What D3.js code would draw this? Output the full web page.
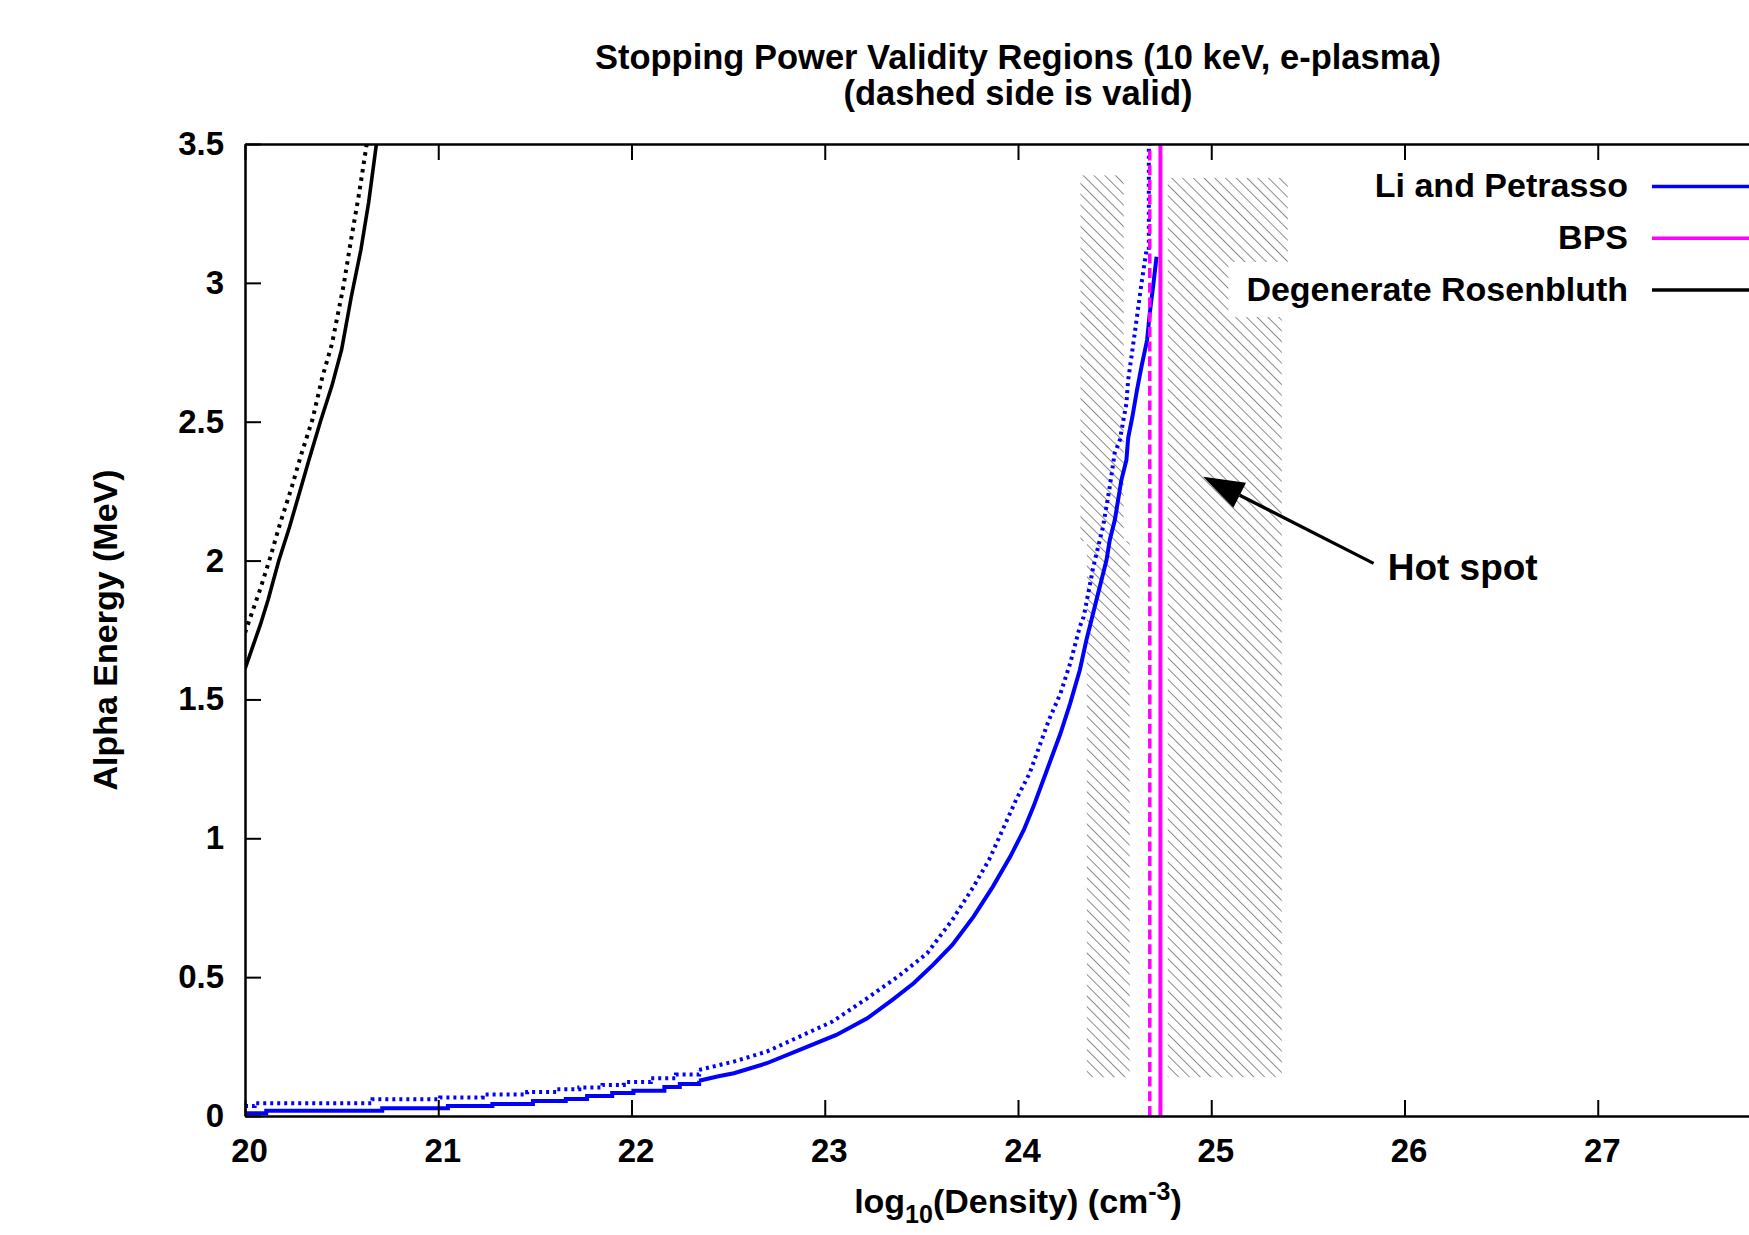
<!DOCTYPE html>
<html>
<head>
<meta charset="utf-8">
<script src="https://cdn.jsdelivr.net/npm/d3@7"></script>
<style>
  body { margin: 0; background: #fff; }
  svg { display: block; font-family: "Liberation Sans", Arial, Helvetica, sans-serif; font-weight: bold; }
  .axis path, .axis line { stroke: #000; stroke-width: 2.5; }
  .axis .tick line { stroke-width: 2; }
  .axis text { font-family: "Liberation Sans", Arial, Helvetica, sans-serif; font-size: 33px; font-weight: bold; fill: #000; }
</style>
</head>
<body>
<div id="chart"></div>
<script>
// axis ranges and ticks (28 lies past the right edge of the picture)
const xDomain = [20, 28];
const yDomain = [0, 3.5];
const xTickValues = [20, 21, 22, 23, 24, 25, 26, 27];
const yTickValues = [0, 0.5, 1, 1.5, 2, 2.5, 3, 3.5];

// Li and Petrasso boundary (solid / dotted), [log10 density, MeV]
// the first points are the flat staircase, the rest is the rising branch
const liPetrassoSolid = [
  [20.00, 0.010], [20.11, 0.019], [20.71, 0.028], [21.05, 0.036], [21.28, 0.043],
  [21.49, 0.054], [21.66, 0.061], [21.77, 0.072], [21.90, 0.083], [22.01, 0.091],
  [22.17, 0.104], [22.25, 0.115], [22.35, 0.127], [22.45, 0.143], [22.53, 0.154],
  [22.70, 0.190], [22.87, 0.238], [23.06, 0.292], [23.22, 0.352], [23.35, 0.418],
  [23.46, 0.478], [23.56, 0.544], [23.66, 0.616], [23.77, 0.718], [23.87, 0.826],
  [23.96, 0.934], [24.03, 1.030], [24.08, 1.114], [24.15, 1.246], [24.22, 1.378],
  [24.27, 1.486], [24.32, 1.606], [24.354, 1.714], [24.380, 1.786], [24.406, 1.858],
  [24.432, 1.930], [24.458, 2.002], [24.475, 2.074], [24.501, 2.146], [24.518, 2.218],
  [24.535, 2.290], [24.561, 2.362], [24.570, 2.441], [24.592, 2.518], [24.616, 2.615],
  [24.639, 2.698], [24.668, 2.794], [24.682, 2.892], [24.699, 2.986], [24.717, 3.094]
];
const liPetrassoDotted = [
  [20.00, 0.036], [20.05, 0.046], [20.66, 0.060], [21.01, 0.067], [21.23, 0.077],
  [21.46, 0.086], [21.61, 0.096], [21.73, 0.103], [21.85, 0.112], [21.96, 0.122],
  [22.10, 0.136], [22.23, 0.149], [22.35, 0.166], [22.53, 0.196], [22.70, 0.232],
  [22.87, 0.286], [23.04, 0.340], [23.22, 0.424], [23.39, 0.508], [23.53, 0.586],
  [23.66, 0.706], [23.77, 0.826], [23.85, 0.922], [23.92, 1.030], [23.99, 1.138],
  [24.06, 1.234], [24.11, 1.330], [24.16, 1.426], [24.22, 1.522], [24.27, 1.630],
  [24.32, 1.762], [24.34, 1.798], [24.39, 1.978], [24.44, 2.122], [24.475, 2.266],
  [24.50, 2.386], [24.527, 2.434], [24.561, 2.566], [24.570, 2.650], [24.604, 2.818],
  [24.639, 2.998], [24.665, 3.118], [24.677, 3.118], [24.677, 3.500]
];
// x where the flat staircase gives way to the rising branch
const staircaseEnd = 22.35;

// Degenerate Rosenbluth boundary (solid / dotted)
const degRosenbluthSolid = [
  [20.00, 1.61], [20.04, 1.69], [20.08, 1.77], [20.12, 1.86], [20.175, 2.00],
  [20.23, 2.12], [20.28, 2.24], [20.33, 2.36], [20.39, 2.50], [20.45, 2.63],
  [20.50, 2.76], [20.55, 2.95], [20.60, 3.12], [20.64, 3.29], [20.68, 3.50]
];
const degRosenbluthDotted = [
  [20.00, 1.74], [20.04, 1.82], [20.08, 1.90], [20.13, 2.01], [20.18, 2.13],
  [20.24, 2.26], [20.29, 2.38], [20.35, 2.51], [20.40, 2.66], [20.45, 2.78],
  [20.51, 2.99], [20.55, 3.16], [20.59, 3.32], [20.63, 3.50]
];

// BPS boundary is vertical
const bpsSolidX = 24.737;
const bpsDashedX = 24.682;

// hatched hot-spot bands: [x0, x1, y0, y1]
const hatchBands = [
  [24.323, 24.547, 2.07, 3.387],
  [24.356, 24.578, 0.14, 2.07],
  [24.775, 25.396, 2.877, 3.378],
  [24.775, 25.365, 0.14, 2.877]
];

const legendLabels = ['Li and Petrasso', 'BPS', 'Degenerate Rosenbluth'];
const legendColors = ['#0000ff', '#ff00ff', '#000000'];

const hotSpotLabel = 'Hot spot';
const hotSpotLabelPos = [25.913, 1.93];
const hotSpotArrow = [[25.84, 1.99], [24.958, 2.302]];

class ValidityPlot {

  constructor(_config) {
    this.config = {
      parentElement: _config.parentElement,
      containerWidth: 1749,
      containerHeight: 1235,
      margin: {top: 144, right: -42, bottom: 119, left: 245}
    };
    this.initVis();
  }

  initVis() {
    let vis = this;

    vis.width = vis.config.containerWidth - vis.config.margin.left - vis.config.margin.right;
    vis.height = vis.config.containerHeight - vis.config.margin.top - vis.config.margin.bottom;

    vis.xScale = d3.scaleLinear().domain(xDomain).range([0, vis.width]);
    vis.yScale = d3.scaleLinear().domain(yDomain).range([vis.height, 0]);

    // gnuplot style: ticks point inward, mirrored on top
    vis.xAxis = d3.axisBottom(vis.xScale)
      .tickValues(xTickValues)
      .tickFormat(d3.format('d'))
      .tickSizeInner(-16)
      .tickSizeOuter(0)
      .tickPadding(22.6);

    vis.xAxisTop = d3.axisTop(vis.xScale)
      .tickValues(xTickValues)
      .tickFormat(() => '')
      .tickSizeInner(-16)
      .tickSizeOuter(0);

    vis.yAxis = d3.axisLeft(vis.yScale)
      .tickValues(yTickValues)
      .tickFormat(d => String(d))
      .tickSizeInner(-16)
      .tickSizeOuter(0)
      .tickPadding(21);

    vis.svg = d3.select(vis.config.parentElement).append('svg')
      .attr('width', vis.config.containerWidth)
      .attr('height', vis.config.containerHeight);

    const defs = vis.svg.append('defs');
    defs.append('pattern')
      .attr('id', 'hatch')
      .attr('patternUnits', 'userSpaceOnUse')
      .attr('width', 7.6)
      .attr('height', 7.6)
      .attr('patternTransform', 'rotate(-45)')
      .append('line')
      .attr('x1', 0.5).attr('y1', 0)
      .attr('x2', 0.5).attr('y2', 7.6)
      .attr('stroke', '#8a8a8a')
      .attr('stroke-width', 1);

    defs.append('clipPath')
      .attr('id', 'plot-clip')
      .append('rect')
      .attr('width', vis.width)
      .attr('height', vis.height);

    vis.chart = vis.svg.append('g')
      .attr('transform', `translate(${vis.config.margin.left},${vis.config.margin.top})`);

    vis.plotArea = vis.chart.append('g').attr('clip-path', 'url(#plot-clip)');

    vis.stepLine = d3.line()
      .x(d => vis.xScale(d[0]))
      .y(d => vis.yScale(d[1]))
      .curve(d3.curveStepAfter);

    vis.line = d3.line()
      .x(d => vis.xScale(d[0]))
      .y(d => vis.yScale(d[1]));

    vis.renderVis();
  }

  // staircase on the flat part, straight segments on the rising part
  boundaryPath(data, splitX) {
    let vis = this;
    if (splitX == null) return vis.line(data);
    const flat = data.filter(d => d[0] <= splitX);
    const rising = data.filter(d => d[0] >= splitX);
    return vis.stepLine(flat) + vis.line(rising);
  }

  renderVis() {
    let vis = this;

    // hatched bands
    vis.plotArea.selectAll('.band')
      .data(hatchBands)
      .join('rect')
      .attr('class', 'band')
      .attr('x', d => vis.xScale(d[0]))
      .attr('width', d => vis.xScale(d[1]) - vis.xScale(d[0]))
      .attr('y', d => vis.yScale(d[3]))
      .attr('height', d => vis.yScale(d[2]) - vis.yScale(d[3]))
      .attr('fill', 'url(#hatch)');

    const series = [
      {data: liPetrassoSolid, split: staircaseEnd, color: '#0000ff', width: 4, dash: null},
      {data: liPetrassoDotted, split: staircaseEnd, color: '#0000ff', width: 4, dash: '3,4'},
      {data: [[bpsSolidX, 0], [bpsSolidX, 3.5]], split: null, color: '#ff00ff', width: 4, dash: null},
      {data: [[bpsDashedX, 0], [bpsDashedX, 3.5]], split: null, color: '#ff00ff', width: 3.5, dash: '10,4.7'},
      {data: degRosenbluthSolid, split: null, color: '#000000', width: 3.6, dash: null},
      {data: degRosenbluthDotted, split: null, color: '#000000', width: 4, dash: '3.5,5'}
    ];

    vis.plotArea.selectAll('.curve')
      .data(series)
      .join('path')
      .attr('class', 'curve')
      .attr('d', d => vis.boundaryPath(d.data, d.split))
      .attr('fill', 'none')
      .attr('stroke', d => d.color)
      .attr('stroke-width', d => d.width)
      .attr('stroke-linejoin', 'miter')
      .attr('stroke-dasharray', d => d.dash);

    // legend, each entry on an opaque white box
    const rowY = i => 42.5 + i * 51.75;
    const legend = vis.chart.append('g').attr('class', 'legend');
    const entries = legend.selectAll('.entry')
      .data(legendLabels)
      .join('g')
      .attr('class', 'entry');

    entries.append('rect').attr('fill', '#fff');
    entries.append('text')
      .attr('x', 1383)
      .attr('y', (d, i) => rowY(i) + 10.5)
      .attr('text-anchor', 'end')
      .style('font-size', '34px')
      .text(d => d);
    entries.append('line')
      .attr('x1', 1407).attr('x2', 1540)
      .attr('y1', (d, i) => rowY(i)).attr('y2', (d, i) => rowY(i))
      .attr('stroke', (d, i) => legendColors[i])
      .attr('stroke-width', 3.5);

    entries.each(function(d, i) {
      const g = d3.select(this);
      const box = g.select('text').node().getBBox();
      g.select('rect')
        .attr('x', box.x - 18)
        .attr('y', rowY(i) - 28)
        .attr('width', 1540 - box.x + 18)
        .attr('height', 55);
    });

    // hot spot annotation
    const tail = [vis.xScale(hotSpotArrow[0][0]), vis.yScale(hotSpotArrow[0][1])];
    const tip = [vis.xScale(hotSpotArrow[1][0]), vis.yScale(hotSpotArrow[1][1])];
    const ang = Math.atan2(tail[1] - tip[1], tail[0] - tip[0]);
    const headLen = 41, headHalf = 14;
    const base = [tip[0] + headLen * Math.cos(ang), tip[1] + headLen * Math.sin(ang)];
    vis.chart.append('line')
      .attr('x1', tail[0]).attr('y1', tail[1])
      .attr('x2', base[0]).attr('y2', base[1])
      .attr('stroke', '#000')
      .attr('stroke-width', 3.3);
    vis.chart.append('polygon')
      .attr('points', [
        tip,
        [base[0] - headHalf * Math.sin(ang), base[1] + headHalf * Math.cos(ang)],
        [base[0] + headHalf * Math.sin(ang), base[1] - headHalf * Math.cos(ang)]
      ].map(p => p.join(',')).join(' '))
      .attr('fill', '#000');
    vis.chart.append('text')
      .attr('x', vis.xScale(hotSpotLabelPos[0]))
      .attr('y', vis.yScale(hotSpotLabelPos[1]))
      .style('font-size', '37px')
      .text(hotSpotLabel);

    // axes
    vis.chart.append('g')
      .attr('class', 'axis x-axis')
      .attr('transform', `translate(0,${vis.height})`)
      .call(vis.xAxis)
      .selectAll('text').attr('dx', 4);

    vis.chart.append('g')
      .attr('class', 'axis x-axis-top')
      .call(vis.xAxisTop);

    vis.chart.append('g')
      .attr('class', 'axis y-axis')
      .call(vis.yAxis);

    // titles
    vis.svg.append('text')
      .attr('x', 1018).attr('y', 69)
      .attr('text-anchor', 'middle')
      .style('font-size', '34.5px')
      .text('Stopping Power Validity Regions (10 keV, e-plasma)');
    vis.svg.append('text')
      .attr('x', 1018).attr('y', 105)
      .attr('text-anchor', 'middle')
      .style('font-size', '34.5px')
      .text('(dashed side is valid)');

    const xLabel = vis.svg.append('text')
      .attr('x', 1018).attr('y', 1213)
      .attr('text-anchor', 'middle')
      .style('font-size', '34px');
    xLabel.append('tspan').text('log');
    xLabel.append('tspan').attr('dy', 10).style('font-size', '25px').text('10');
    xLabel.append('tspan').attr('dy', -10).text('(Density) (cm');
    xLabel.append('tspan').attr('dy', -13).style('font-size', '25px').text('-3');
    xLabel.append('tspan').attr('dy', 13).text(')');

    vis.svg.append('text')
      .attr('transform', 'translate(117,630) rotate(-90)')
      .attr('text-anchor', 'middle')
      .style('font-size', '34px')
      .text('Alpha Energy (MeV)');
  }
}

new ValidityPlot({parentElement: '#chart'});
</script>
</body>
</html>
